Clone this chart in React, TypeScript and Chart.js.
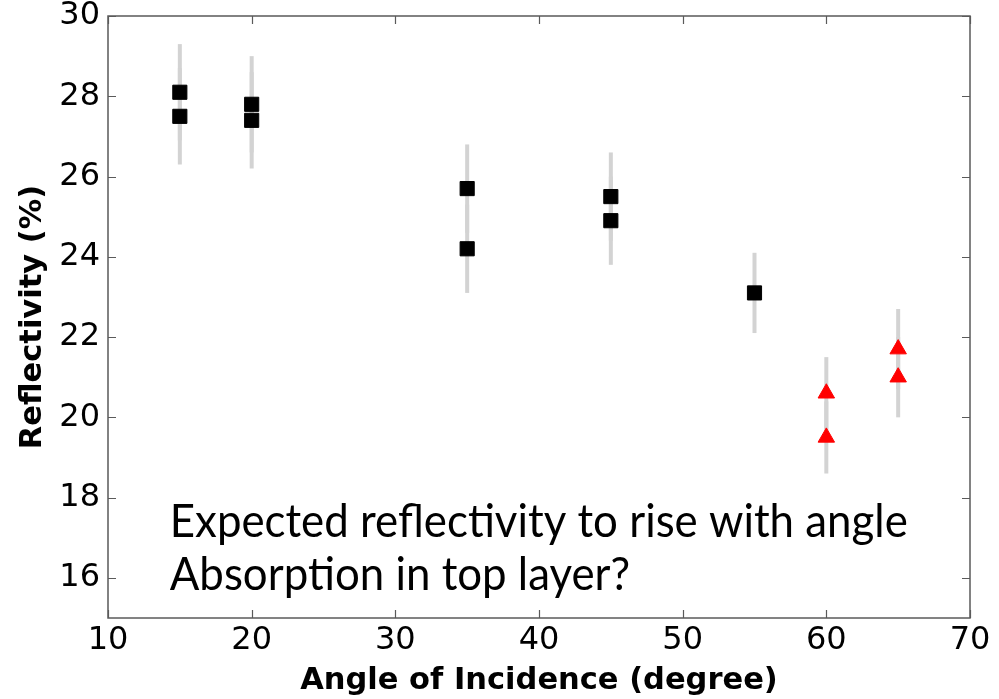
import React, { useEffect, useRef } from 'react';
import { Chart, registerables } from 'chart.js';

Chart.register(...registerables);

// Measured reflectivity vs. angle of incidence
const squareAngles = [15, 15, 20, 20, 35, 35, 45, 45, 55];
const squareValues = [28.1, 27.5, 27.8, 27.4, 25.7, 24.2, 25.5, 24.9, 23.1];
const squareErrors = [1.2, 1.2, 1.2, 1.2, 1.1, 1.1, 1.1, 1.1, 1.0];

const triangleAngles = [60, 60, 65, 65];
const triangleValues = [20.6, 19.5, 21.7, 21.0];
const triangleErrors = [0.9, 0.9, 1.0, 1.0];

const xTicks = [10, 20, 30, 40, 50, 60, 70];
const yTicks = [16, 18, 20, 22, 24, 26, 28, 30];

const noteLines = ['Expected reflectivity to rise with angle', 'Absorption in top layer?'];
const noteAnchor = { x: 14.3, y: [17.02, 15.7] };

const FRAME_COLOR = '#5a5a5a';
const ERR_COLOR = '#d3d3d3';

const errorBarPlugin = {
  id: 'errorBars',
  beforeDatasetsDraw(chart: any) {
    const { ctx, chartArea, scales } = chart;
    ctx.save();
    ctx.beginPath();
    ctx.rect(chartArea.left, chartArea.top, chartArea.right - chartArea.left, chartArea.bottom - chartArea.top);
    ctx.clip();
    ctx.strokeStyle = ERR_COLOR;
    ctx.lineWidth = 4;
    ctx.lineCap = 'butt';
    chart.data.datasets.forEach((ds: any) => {
      ds.data.forEach((p: any, i: number) => {
        const e = ds.errors[i];
        const px = scales.x.getPixelForValue(p.x);
        ctx.beginPath();
        ctx.moveTo(px, scales.y.getPixelForValue(p.y + e));
        ctx.lineTo(px, scales.y.getPixelForValue(p.y - e));
        ctx.stroke();
      });
    });
    ctx.restore();
  },
};

const framePlugin = {
  id: 'frameAndTicks',
  afterDatasetsDraw(chart: any) {
    const { ctx, chartArea, scales } = chart;
    const { left, right, top, bottom } = chartArea;
    const len = 8;
    ctx.save();
    ctx.strokeStyle = FRAME_COLOR;
    ctx.lineWidth = 1.5;
    ctx.strokeRect(left, top, right - left, bottom - top);
    ctx.lineWidth = 1.2;
    ctx.beginPath();
    xTicks.forEach((v) => {
      const px = Math.round(scales.x.getPixelForValue(v)) + 0.5;
      ctx.moveTo(px, bottom);
      ctx.lineTo(px, bottom - len);
      ctx.moveTo(px, top);
      ctx.lineTo(px, top + len);
    });
    yTicks.forEach((v) => {
      const py = Math.round(scales.y.getPixelForValue(v)) + 0.5;
      ctx.moveTo(left, py);
      ctx.lineTo(left + len, py);
      ctx.moveTo(right, py);
      ctx.lineTo(right - len, py);
    });
    ctx.stroke();
    ctx.restore();
  },
};

const notePlugin = {
  id: 'note',
  afterDraw(chart: any) {
    const { ctx, scales } = chart;
    ctx.save();
    ctx.font = '46px Lato, "Noto Sans", sans-serif';
    ctx.fillStyle = '#000';
    ctx.textBaseline = 'alphabetic';
    ctx.textAlign = 'left';
    const targetWidth = 738;
    const sx = Math.min(1, targetWidth / ctx.measureText(noteLines[0]).width);
    noteLines.forEach((line, i) => {
      const px = scales.x.getPixelForValue(noteAnchor.x);
      const py = scales.y.getPixelForValue(noteAnchor.y[i]);
      ctx.save();
      ctx.translate(px, py);
      ctx.scale(sx, 1);
      ctx.fillText(line, 0, 0);
      ctx.restore();
    });
    ctx.restore();
  },
};

const toPoints = (xs: number[], ys: number[]) => xs.map((x, i) => ({ x, y: ys[i] }));

export default function App() {
  const canvasRef = useRef<HTMLCanvasElement | null>(null);

  useEffect(() => {
    if (!canvasRef.current) return;
    const tickFont = { family: '"DejaVu Sans", sans-serif', size: 32 };
    const titleFont = { family: '"DejaVu Sans", sans-serif', size: 30.5, weight: 'bold' as const };

    const chart = new Chart(canvasRef.current, {
      type: 'scatter',
      data: {
        datasets: [
          {
            label: 'squares',
            data: toPoints(squareAngles, squareValues),
            errors: squareErrors,
            pointStyle: 'rect',
            pointRadius: 10,
            backgroundColor: '#000000',
            borderColor: '#000000',
            borderWidth: 1,
          } as any,
          {
            label: 'triangles',
            data: toPoints(triangleAngles, triangleValues),
            errors: triangleErrors,
            pointStyle: 'triangle',
            pointRadius: 9.5,
            backgroundColor: '#ff0000',
            borderColor: '#ff0000',
            borderWidth: 1,
          } as any,
        ],
      },
      options: {
        responsive: false,
        animation: false,
        layout: { padding: { top: 16, right: 29, left: 0, bottom: 0 } },
        plugins: { legend: { display: false }, tooltip: { enabled: false } },
        scales: {
          x: {
            type: 'linear',
            min: 10,
            max: 70,
            afterBuildTicks: (s: any) => {
              s.ticks = xTicks.map((v) => ({ value: v }));
            },
            afterFit: (s: any) => {
              s.height = 81;
              s.paddingLeft = 0;
              s.paddingRight = 0;
            },
            grid: { display: false, drawTicks: false },
            border: { display: false },
            ticks: { font: tickFont, color: '#000', padding: 3, maxRotation: 0, autoSkip: false },
            title: {
              display: true,
              text: 'Angle of Incidence (degree)',
              font: titleFont,
              color: '#000',
              padding: 0,
            },
          },
          y: {
            type: 'linear',
            min: 15,
            max: 30,
            afterBuildTicks: (s: any) => {
              s.ticks = yTicks.map((v) => ({ value: v }));
            },
            afterFit: (s: any) => {
              s.width = 108;
              s.paddingTop = 0;
              s.paddingBottom = 0;
            },
            grid: { display: false, drawTicks: false },
            border: { display: false },
            ticks: { font: tickFont, color: '#000', padding: 8, autoSkip: false },
            title: {
              display: true,
              text: 'Reflectivity (%)',
              font: titleFont,
              color: '#000',
              padding: { top: 15, bottom: 0 },
            },
          },
        },
      },
      plugins: [errorBarPlugin, framePlugin, notePlugin],
    });

    return () => chart.destroy();
  }, []);

  return (
    <div style={{ position: 'absolute', left: 0, top: 0, width: 999, height: 699, background: '#fff' }}>
      <canvas ref={canvasRef} width={999} height={699} style={{ width: 999, height: 699, display: 'block' }} />
    </div>
  );
}
